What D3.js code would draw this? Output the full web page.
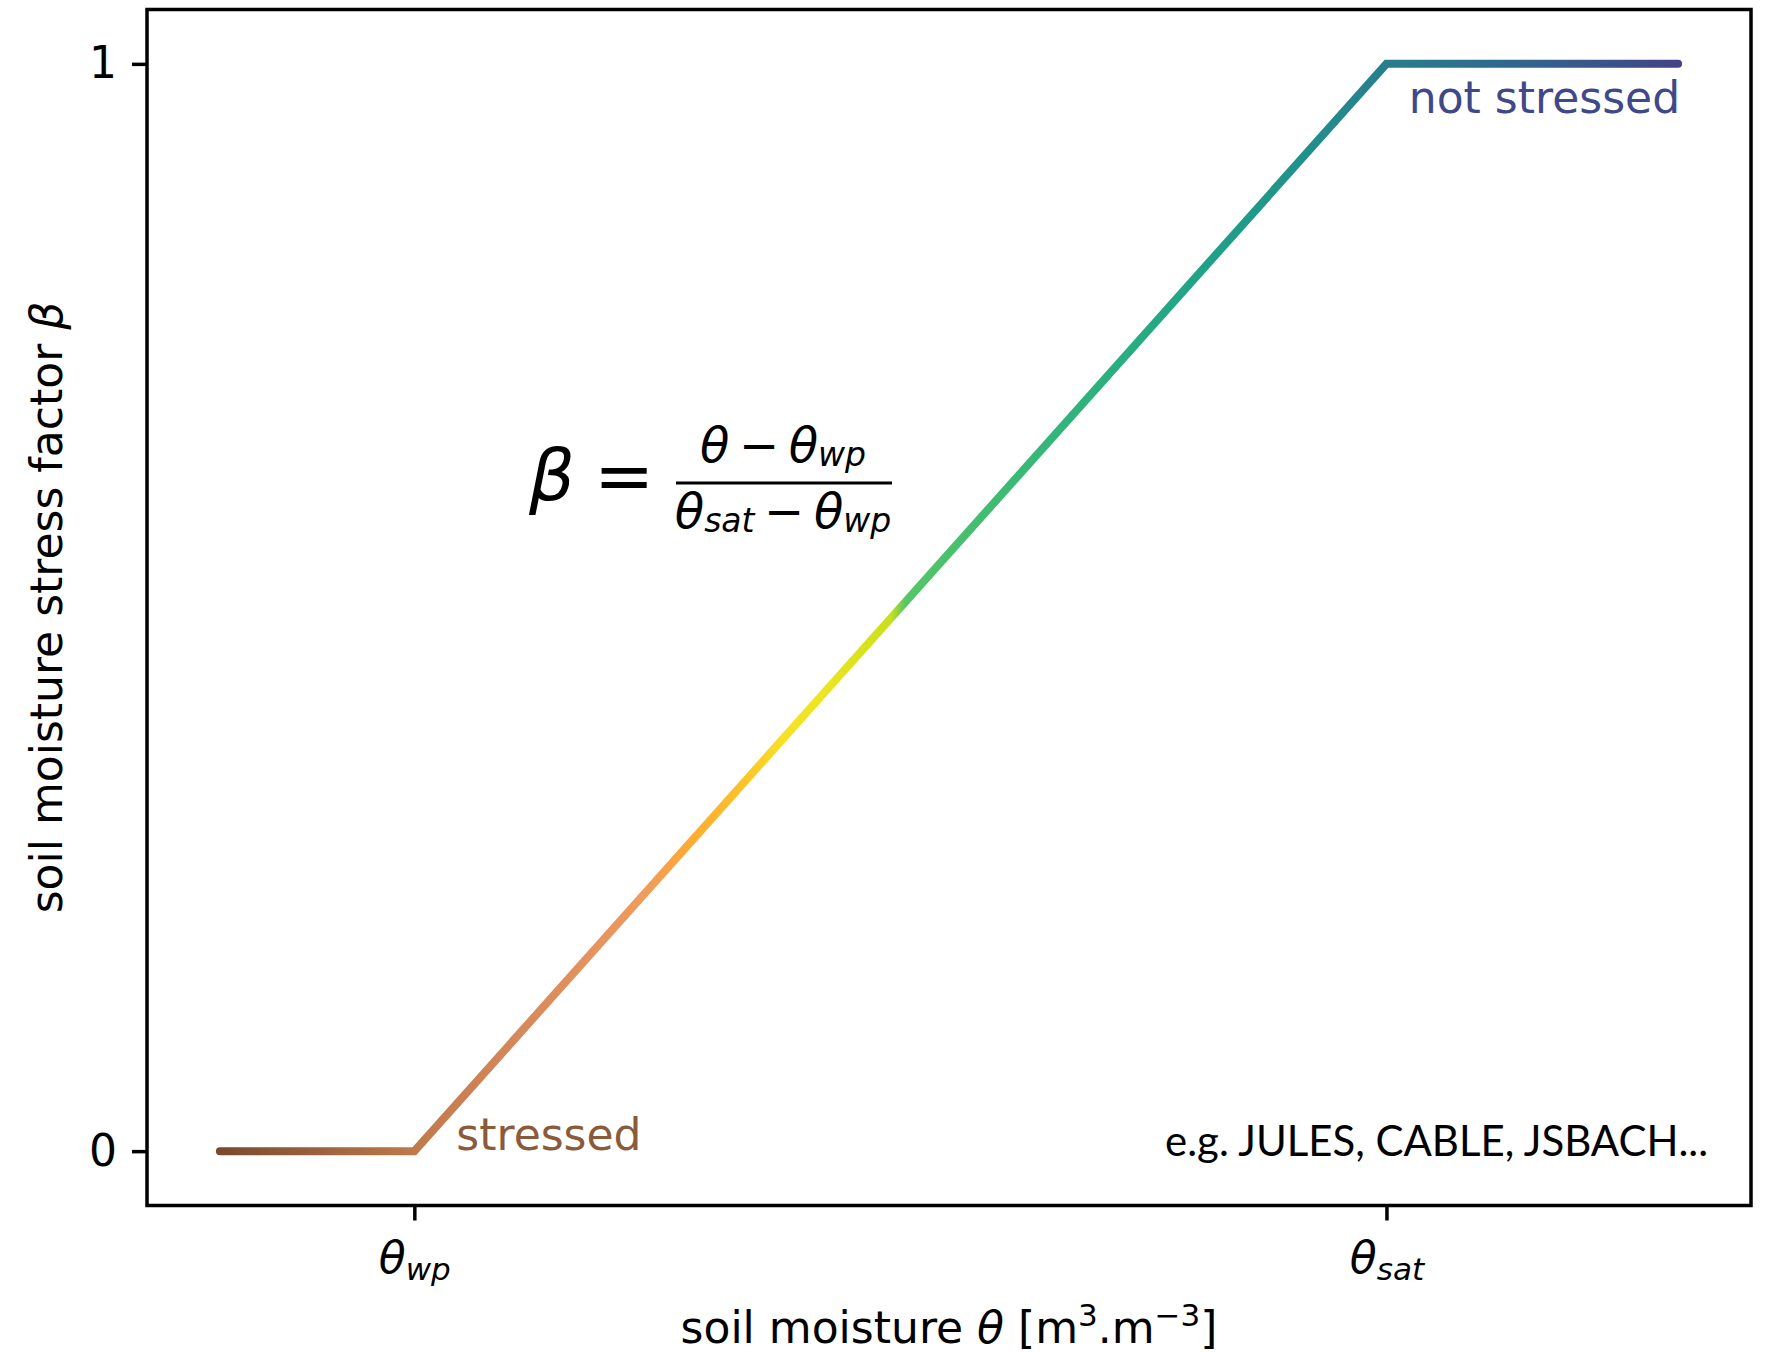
<!DOCTYPE html>
<meta charset="utf-8">
<style>
body { margin: 0; background: #fff; }
text { font-family: "DejaVu Sans", sans-serif; }
.domain { display: none; }
.tick line { stroke: #000; stroke-width: 3.5px; }
</style>
<body>
<div id="my_dataviz"></div>
<script src="https://d3js.org/d3.v7.min.js"></script>
<script>

// curve: soil moisture (relative to wilting point / saturation) vs stress factor
var moisture = [-0.2, 0, 1, 1.3];
var beta = [0, 0, 1, 1];

// ticks
var xTicks = [0, 1];
var xTickSubs = ["wp", "sat"];
var yTicks = [0, 1];
var yTickLabels = ["0", "1"];

// colour ramp along the moisture axis (brown -> orange -> yellow | green -> teal -> blue)
var rampAt = [-0.2, -0.1, 0, 0.1, 0.2, 0.24, 0.28, 0.33, 0.38, 0.42, 0.47, 0.49, 0.5, 0.505, 0.6, 0.7, 0.8, 0.9, 1.0, 1.15, 1.3];
var rampColor = ["#7a4a2c", "#9a623c", "#bf794b", "#d5875a", "#e8965f", "#f09c5c", "#fda934", "#fcbf2a", "#f8e024", "#ece622",
                 "#d5e11a", "#c8df1e", "#7fcf4e", "#56c667", "#3fbb73", "#2cb17e", "#21a486", "#20938b", "#277e8e", "#32638d", "#414487"];

var margin = {top: 9.5, right: 14, bottom: 146.5, left: 147},
    width = 1765 - margin.left - margin.right,
    height = 1352 - margin.top - margin.bottom;

var svgRoot = d3.select("#my_dataviz")
  .append("svg")
    .attr("width", width + margin.left + margin.right)
    .attr("height", height + margin.top + margin.bottom)
    .style("display", "block")
    .style("background", "#fff");

var svg = svgRoot.append("g")
    .attr("transform", "translate(" + margin.left + "," + margin.top + ")");

// matplotlib style 5% margins
var xExt = d3.extent(moisture), xPad = (xExt[1] - xExt[0]) * 0.05;
var yExt = d3.extent(beta), yPad = (yExt[1] - yExt[0]) * 0.05;

var x = d3.scaleLinear()
  .domain([xExt[0] - xPad, xExt[1] + xPad])
  .range([0, width]);

var y = d3.scaleLinear()
  .domain([yExt[0] - yPad, yExt[1] + yPad])
  .range([height, 0]);

// gradient following x
var defs = svgRoot.append("defs");
var grad = defs.append("linearGradient")
  .attr("id", "ramp")
  .attr("gradientUnits", "userSpaceOnUse")
  .attr("x1", x(xExt[0])).attr("y1", 0)
  .attr("x2", x(xExt[1])).attr("y2", 0);
grad.selectAll("stop")
  .data(rampAt)
  .enter()
  .append("stop")
    .attr("offset", function(d) { return (d - xExt[0]) / (xExt[1] - xExt[0]); })
    .attr("stop-color", function(d, i) { return rampColor[i]; });

// X axis
var xAxis = svg.append("g")
  .attr("transform", "translate(0," + height + ")")
  .call(d3.axisBottom(x).tickValues(xTicks).tickSize(15).tickFormat(""));

xAxis.selectAll(".tick").each(function(d, i) {
  var t = d3.select(this).append("text")
    .attr("y", 67.5)
    .attr("fill", "#000")
    .attr("text-anchor", "middle")
    .style("font-size", "44px");
  t.append("tspan").style("font-style", "italic").text("θ");
  t.append("tspan").style("font-style", "italic").style("font-size", "31px").attr("dy", 7).text(xTickSubs[i]);
});

// Y axis
var yAxis = svg.append("g")
  .call(d3.axisLeft(y).tickValues(yTicks).tickSize(15).tickPadding(15)
    .tickFormat(function(d, i) { return yTickLabels[i]; }));
yAxis.selectAll(".tick text")
  .attr("fill", "#000")
  .style("font-size", "44px")
  .style("font-family", "DejaVu Sans");

// frame
svg.append("rect")
  .attr("x", 0).attr("y", 0)
  .attr("width", width).attr("height", height)
  .attr("fill", "none")
  .attr("stroke", "#000")
  .attr("stroke-width", 3.5);

// curve
var pts = moisture.map(function(m, i) { return {m: m, b: beta[i]}; });
svg.append("path")
  .datum(pts)
  .attr("fill", "none")
  .attr("stroke", "url(#ramp)")
  .attr("stroke-width", 8)
  .attr("stroke-linecap", "round")
  .attr("stroke-linejoin", "miter")
  .attr("d", d3.line().x(function(d) { return x(d.m); }).y(function(d) { return y(d.b); }));

// axis labels
var xl = svg.append("text")
  .attr("x", width / 2)
  .attr("y", height + 137.5)
  .attr("text-anchor", "middle")
  .style("font-size", "44px");
xl.append("tspan").text("soil moisture ");
xl.append("tspan").style("font-style", "italic").text("θ");
xl.append("tspan").text(" [m");
xl.append("tspan").style("font-size", "31px").attr("dy", -17).text("3");
xl.append("tspan").attr("dy", 17).text(".m");
xl.append("tspan").style("font-size", "31px").attr("dy", -17).text("−3");
xl.append("tspan").attr("dy", 17).text("]");

var yl = svg.append("text")
  .attr("transform", "translate(-85," + (height / 2) + ") rotate(-90)")
  .attr("text-anchor", "middle")
  .style("font-size", "44px");
yl.append("tspan").text("soil moisture stress factor ");
yl.append("tspan").style("font-style", "italic").text("β");

// annotations
svg.append("text")
  .attr("x", x(0) + 42)
  .attr("y", y(0) - 1)
  .attr("fill", "#8a5a3a")
  .style("font-size", "44px")
  .text("stressed");

svg.append("text")
  .attr("x", x(1.3) + 2)
  .attr("y", y(1) + 49)
  .attr("text-anchor", "end")
  .attr("fill", "#404889")
  .style("font-size", "44px")
  .text("not stressed");

svg.append("text")
  .attr("x", x(1.3) + 30)
  .attr("y", y(0) + 5)
  .attr("text-anchor", "end")
  .attr("textLength", 543)
  .attr("lengthAdjust", "spacingAndGlyphs")
  .style("font-family", "Lato")
  .style("font-size", "42px")
  .attr("fill", "#000")
  .text("e.g. JULES, CABLE, JSBACH...");

// formula
var fx = x(0.12), fy = y(0.62);
svg.append("text")
  .attr("x", fx - 2).attr("y", fy + 23)
  .style("font-size", "72px").style("font-style", "italic")
  .text("β");
svg.append("text")
  .attr("x", fx + 63).attr("y", fy + 23)
  .style("font-size", "72px")
  .text("=");
svg.append("line")
  .attr("x1", fx + 145).attr("x2", fx + 361)
  .attr("y1", fy + 6).attr("y2", fy + 6)
  .attr("stroke", "#000").attr("stroke-width", 3);

var num = svg.append("text")
  .attr("x", fx + 252).attr("y", fy - 15)
  .attr("text-anchor", "middle")
  .style("font-size", "48px");
num.append("tspan").style("font-style", "italic").text("θ");
num.append("tspan").text("\u2009−\u2009");
num.append("tspan").style("font-style", "italic").text("θ");
num.append("tspan").style("font-style", "italic").style("font-size", "33px").attr("dy", 4).text("wp");

var den = svg.append("text")
  .attr("x", fx + 252).attr("y", fy + 51)
  .attr("text-anchor", "middle")
  .style("font-size", "48px");
den.append("tspan").style("font-style", "italic").text("θ");
den.append("tspan").style("font-style", "italic").style("font-size", "33px").attr("dy", 4).text("sat");
den.append("tspan").attr("dy", -4).text("\u2009−\u2009");
den.append("tspan").style("font-style", "italic").text("θ");
den.append("tspan").style("font-style", "italic").style("font-size", "33px").attr("dy", 4).text("wp");

</script>
</body>
